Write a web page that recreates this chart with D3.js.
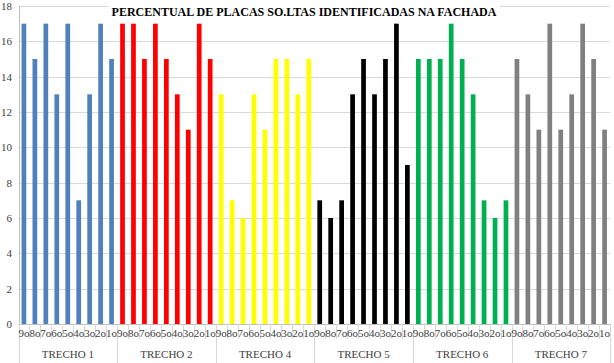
<!DOCTYPE html>
<html>
<head>
<meta charset="utf-8">
<script src="https://cdn.jsdelivr.net/npm/d3@7"></script>
<style>
  body { margin: 0; background: #fff; }
  svg text { font-family: "Liberation Serif", "Times New Roman", serif; }
</style>
</head>
<body>
<svg id="chart" width="614" height="363"></svg>
<script>
// data
const trechos = ['TRECHO 1', 'TRECHO 2', 'TRECHO 4', 'TRECHO 5', 'TRECHO 6', 'TRECHO 7'];
const pavimentos = ['9o', '8o', '7o', '6o', '5o', '4o', '3o', '2o', '1o'];
const trecho1 = [17, 15, 17, 13, 17, 7, 13, 17, 15];
const trecho2 = [17, 17, 15, 17, 15, 13, 11, 17, 15];
const trecho4 = [13, 7, 6, 13, 11, 15, 15, 13, 15];
const trecho5 = [7, 6, 7, 13, 15, 13, 15, 17, 9];
const trecho6 = [15, 15, 15, 17, 15, 13, 7, 6, 7];
const trecho7 = [15, 13, 11, 17, 11, 13, 17, 15, 11];
const colors = ['#4f81bd', '#ff0000', '#ffff00', '#000000', '#00b050', '#808080'];
const yTicks = [0, 2, 4, 6, 8, 10, 12, 14, 16, 18];

const series = [trecho1, trecho2, trecho4, trecho5, trecho6, trecho7];
const rows = [];
series.forEach((vals, gi) => {
    vals.forEach((v, i) => {
        rows.push({ key: gi + '-' + i, group: gi, label: pavimentos[i], value: v });
    });
});

const svg = d3.select('#chart');
const plotL = 18.5, plotR = 610, plotT = 6, plotB = 324;

const x = d3.scaleBand().domain(rows.map(d => d.key)).range([plotL, plotR]).paddingInner(0.57).paddingOuter(0.28);
const y = d3.scaleLinear().domain([0, 18]).range([plotB, plotT]);
const step = x.step();
const groupW = step * 9;

// gridlines
svg.append('g').selectAll('line').data(yTicks).enter().append('line')
    .attr('x1', plotL).attr('x2', plotR)
    .attr('y1', d => Math.round(y(d)) + 0.5).attr('y2', d => Math.round(y(d)) + 0.5)
    .attr('stroke', '#d9d9d9').attr('stroke-width', 1);

// y axis
svg.append('line')
    .attr('x1', Math.round(plotL) + 0.5).attr('x2', Math.round(plotL) + 0.5)
    .attr('y1', plotT).attr('y2', plotB)
    .attr('stroke', '#bfbfbf');

svg.append('g').selectAll('text').data(yTicks).enter().append('text')
    .attr('x', 12).attr('y', d => y(d) + 4)
    .attr('text-anchor', 'end')
    .attr('font-size', 11).attr('fill', '#404040')
    .text(d => d);

// bars
svg.append('g').selectAll('rect').data(rows).enter().append('rect')
    .attr('x', d => x(d.key))
    .attr('y', d => y(d.value))
    .attr('width', x.bandwidth())
    .attr('height', d => y(0) - y(d.value))
    .attr('fill', d => colors[d.group]);

// x axis line
svg.append('line')
    .attr('x1', plotL).attr('x2', plotR)
    .attr('y1', plotB + 0.5).attr('y2', plotB + 0.5)
    .attr('stroke', '#bfbfbf');

// category ticks
const ticks = d3.range(rows.length + 1).filter(i => i % 9 !== 0);
svg.append('g').selectAll('line').data(ticks).enter().append('line')
    .attr('x1', i => Math.round(plotL + i * step) + 0.5).attr('x2', i => Math.round(plotL + i * step) + 0.5)
    .attr('y1', plotB).attr('y2', 339)
    .attr('stroke', '#d9d9d9');

// group separators
svg.append('g').selectAll('line').data(d3.range(trechos.length + 1)).enter().append('line')
    .attr('x1', i => Math.round(plotL + i * groupW) + 0.5).attr('x2', i => Math.round(plotL + i * groupW) + 0.5)
    .attr('y1', plotB).attr('y2', 363)
    .attr('stroke', '#d9d9d9');

// category labels
svg.append('g').selectAll('text').data(rows).enter().append('text')
    .attr('x', d => x(d.key) + x.bandwidth() / 2)
    .attr('y', 337)
    .attr('text-anchor', 'middle')
    .attr('font-size', 11).attr('fill', '#404040')
    .text(d => d.label);

// group labels
svg.append('g').selectAll('text').data(trechos).enter().append('text')
    .attr('x', (d, i) => plotL + i * groupW + groupW / 2)
    .attr('y', 358)
    .attr('text-anchor', 'middle')
    .attr('font-size', 11).attr('fill', '#404040')
    .text(d => d);

// title with white box behind it
const titleG = svg.append('g');
const titleBg = titleG.append('rect').attr('fill', '#fff');
const title = titleG.append('text')
    .attr('x', 304).attr('y', 16)
    .attr('text-anchor', 'middle')
    .attr('font-size', 12).attr('font-weight', 'bold').attr('fill', '#000')
    .text('PERCENTUAL DE PLACAS  SO.LTAS IDENTIFICADAS  NA FACHADA');
const bb = title.node().getBBox();
titleBg.attr('x', bb.x - 3).attr('y', 0)
    .attr('width', bb.width + 6).attr('height', 20);
</script>
</body>
</html>
